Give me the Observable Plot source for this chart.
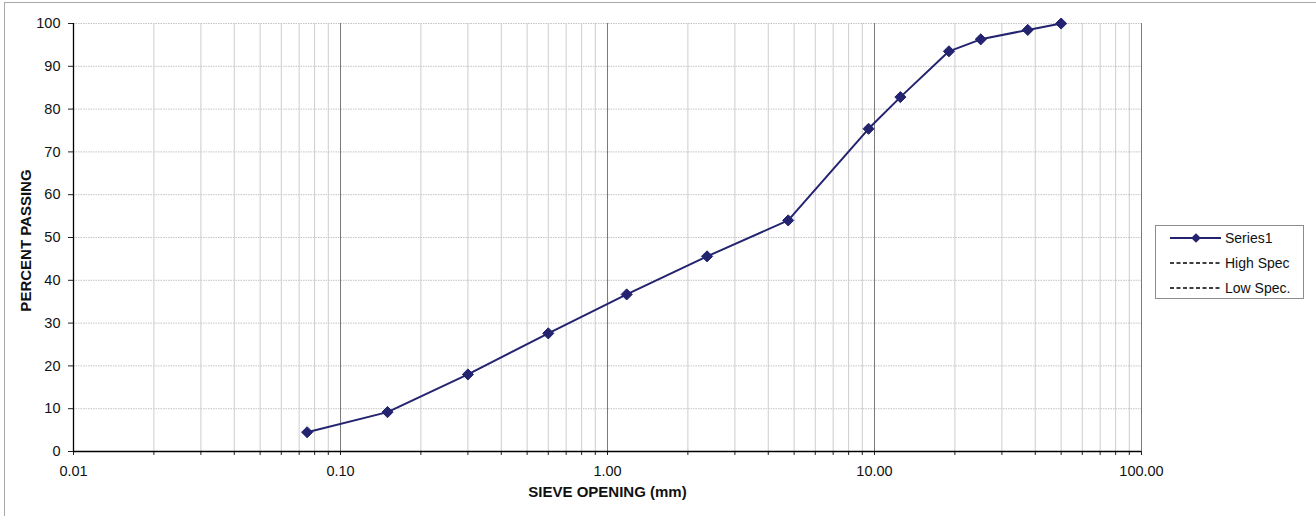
<!DOCTYPE html>
<html>
<head>
<meta charset="utf-8">
<script src="https://cdn.jsdelivr.net/npm/d3@7"></script>
<script src="https://cdn.jsdelivr.net/npm/@observablehq/plot@0.6"></script>
<style>
  html, body { margin: 0; padding: 0; background: #fff; }
  #wrap { position: relative; width: 1316px; height: 516px; overflow: hidden; font-family: "Liberation Sans", Arial, sans-serif; }
  #border { position: absolute; left: 4px; top: 2px; width: 1400px; height: 600px; border-top: 1px solid #a8a8a8; border-left: 1px solid #a8a8a8; pointer-events: none; }
  #chart { position: absolute; left: 0; top: 0; }
  #legend { position: absolute; left: 1155px; top: 225px; width: 149px; height: 74px; border: 1px solid #8c8c8c; background: #fff; box-sizing: border-box; }
</style>
</head>
<body>
<div id="wrap">
  <div id="border"></div>
  <div id="chart"></div>
  <div id="legend"></div>
</div>
<script>
// ---- data ----
const sieveSizes     = [0.075, 0.15, 0.3, 0.6, 1.18, 2.36, 4.75, 9.5, 12.5, 19, 25, 37.5, 50];
const percentPassing = [4.5, 9.2, 18.0, 27.6, 36.7, 45.6, 54.0, 75.4, 82.8, 93.5, 96.3, 98.5, 100];
const xMajorTicks    = [0.01, 0.1, 1, 10, 100];
const xTickLabels    = ["0.01", "0.10", "1.00", "10.00", "100.00"];
const yTicks         = [0, 10, 20, 30, 40, 50, 60, 70, 80, 90, 100];
const legendNames    = ["Series1", "High Spec", "Low Spec."];
const xTitle = "SIEVE OPENING (mm)";
const yTitle = "PERCENT PASSING";

// ---- derived ----
const data = sieveSizes.map((s, i) => ({size: s, pass: percentPassing[i]}));
const minorTicks = [];
xMajorTicks.slice(0, -1).forEach(d => { for (let k = 2; k <= 9; k++) minorTicks.push(+(d * k).toPrecision(6)); });
const allTicks = [...xMajorTicks, ...minorTicks];
const labelOf = new Map(xMajorTicks.map((v, i) => [v, xTickLabels[i]]));

const navy = "#23236f";
const font = "Liberation Sans, Arial, sans-serif";

const chart = Plot.plot({
  width: 1316,
  height: 516,
  marginLeft: 73,
  marginRight: 175,
  marginTop: 23,
  marginBottom: 65,
  style: {fontFamily: font, fontSize: "14px", color: "#111", background: "transparent"},
  x: {type: "log", domain: [0.01, 100]},
  y: {domain: [0, 100]},
  marks: [
    Plot.ruleY(yTicks.filter(d => d > 0), {stroke: "#c4c4c4", strokeDasharray: "1.5,1", strokeWidth: 1}),
    Plot.ruleX(minorTicks, {stroke: "#cdcdcd", strokeWidth: 1}),
    Plot.ruleX(xMajorTicks.slice(1), {stroke: "#7a7a7a", strokeWidth: 1}),
    Plot.axisX({ticks: allTicks, tickSize: 4, tickPadding: 10, tickFormat: d => labelOf.get(+d.toPrecision(6)) ?? "", label: null, fontSize: 14.5, stroke: "#222"}),
    Plot.axisY({ticks: yTicks, tickSize: 5, tickPadding: 8, label: null, fontSize: 14.5, stroke: "#222"}),
    Plot.ruleY([0], {stroke: "#000", strokeWidth: 1.3}),
    Plot.ruleX([0.01], {stroke: "#000", strokeWidth: 1.3}),
    Plot.line(data, {x: "size", y: "pass", stroke: navy, strokeWidth: 2}),
    Plot.dot(data, {x: "size", y: "pass", symbol: "diamond2", r: 5, fill: navy, stroke: navy, strokeWidth: 1}),
    Plot.text([xTitle], {frameAnchor: "bottom", dy: 45, text: d => d, fontWeight: "bold", fontSize: 15, fill: "#111"}),
    Plot.text([yTitle], {frameAnchor: "left", textAnchor: "middle", dx: -47, dy: 3, rotate: -90, text: d => d, fontWeight: "bold", fontSize: 15, fill: "#111"})
  ]
});
document.getElementById("chart").appendChild(chart);

// ---- legend ----
const lg = d3.select("#legend").append("svg").attr("width", 147).attr("height", 72)
  .style("font-family", font).style("font-size", "14px");
legendNames.forEach((name, i) => {
  const y = 12 + i * 25;
  const g = lg.append("g").attr("transform", `translate(0,${y})`);
  if (i === 0) {
    g.append("line").attr("x1", 14).attr("x2", 65).attr("y1", 0).attr("y2", 0).attr("stroke", navy).attr("stroke-width", 2);
    g.append("path").attr("d", d3.symbol(d3.symbolDiamond2, 60)()).attr("transform", "translate(40,0)").attr("fill", navy);
  } else {
    g.append("line").attr("x1", 14).attr("x2", 65).attr("y1", 0).attr("y2", 0).attr("stroke", "#000").attr("stroke-width", 1.3).attr("stroke-dasharray", "4,2.5");
  }
  g.append("text").attr("x", 69).attr("y", 0).attr("dy", "0.35em").attr("fill", "#111").text(name);
});
</script>
</body>
</html>
